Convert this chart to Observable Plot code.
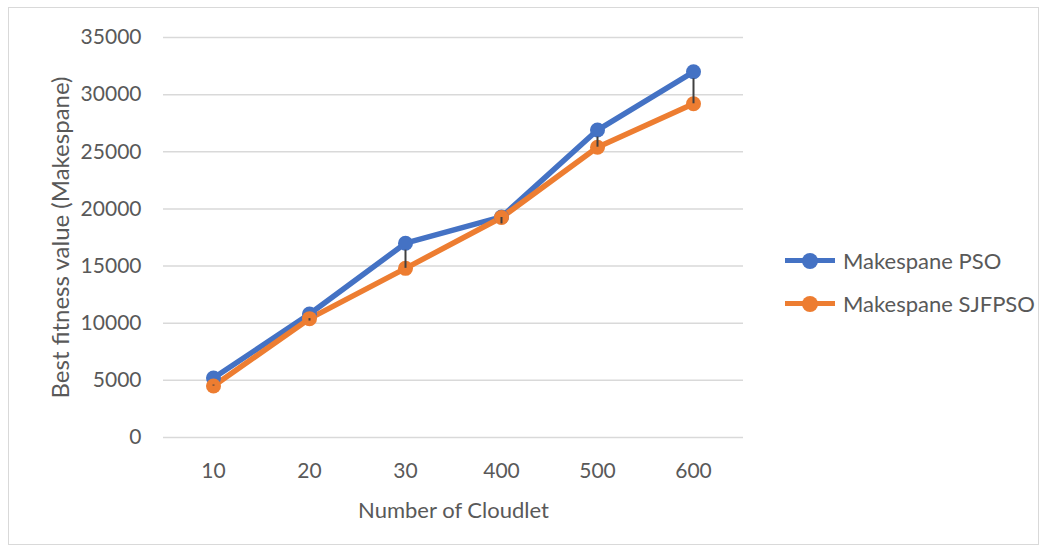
<!DOCTYPE html>
<html>
<head>
<meta charset="utf-8">
<script src="https://cdn.jsdelivr.net/npm/d3@7"></script>
<script src="https://cdn.jsdelivr.net/npm/@observablehq/plot@0.6"></script>
<style>
  html, body { margin: 0; padding: 0; background: #fff; }
  #wrap { position: relative; width: 1046px; height: 553px; font-family: Lato, "Open Sans", sans-serif; }
  #frame { position: absolute; left: 8px; top: 7px; width: 1031px; height: 538px; border: 1px solid #d9d9d9; box-sizing: border-box; }
  #chart { position: absolute; left: 0; top: 0; }
  #legend { position: absolute; left: 785px; top: 239px; font-size: 22px; color: #595959; }
  .item { display: flex; align-items: center; height: 43px; }
  .sw { position: relative; width: 50px; height: 16px; margin-right: 8px; }
  .sw .ln { position: absolute; left: 0; top: 5.5px; width: 50px; height: 5px; }
  .sw .dot { position: absolute; left: 17px; top: 0; width: 16px; height: 16px; border-radius: 50%; }
  .ylab { font-size: 24px; }
</style>
</head>
<body>
<div id="wrap">
  <div id="frame"></div>
  <div id="chart"></div>
  <div id="legend"></div>
</div>
<script>
const categories = ["10", "20", "30", "400", "500", "600"];
const psoValues = [5200, 10800, 17000, 19300, 26900, 32000];
const sjfpsoValues = [4500, 10400, 14800, 19250, 25400, 29200];
const seriesNames = ["Makespane PSO", "Makespane SJFPSO"];
const seriesColors = ["#4472C4", "#ED7D31"];
const yTicks = [0, 5000, 10000, 15000, 20000, 25000, 30000, 35000];

const rows = [];
categories.forEach((c, i) => {
  rows.push({cat: c, value: psoValues[i], series: seriesNames[0]});
  rows.push({cat: c, value: sjfpsoValues[i], series: seriesNames[1]});
});
const hiLo = categories.map((c, i) => ({cat: c, a: psoValues[i], b: sjfpsoValues[i]}));

const chart = Plot.plot({
  width: 1046,
  height: 553,
  marginLeft: 163,
  marginRight: 303,
  marginTop: 37,
  marginBottom: 116,
  style: {fontFamily: "Lato, 'Open Sans', sans-serif", fontSize: "21px", color: "#595959", background: "transparent"},
  x: {type: "point", domain: categories, padding: 0.5},
  y: {domain: [0, 35000]},
  color: {domain: seriesNames, range: seriesColors},
  marks: [
    Plot.gridY(yTicks, {stroke: "#d9d9d9", strokeOpacity: 1, strokeWidth: 1.5}),
    Plot.axisY(yTicks, {tickSize: 0, tickPadding: 22, fontSize: 21, tickFormat: d => String(d), label: null}),
    Plot.axisY({tickSize: 0, ticks: [], fontSize: 24,
      label: "Best fitness value (Makespane)", labelAnchor: "center", labelOffset: 112, labelArrow: "none"}),
    Plot.axisX({tickSize: 0, tickPadding: 26, fontSize: 21, label: null}),
    Plot.axisX({tickSize: 0, ticks: [], fontSize: 22,
      label: "Number of Cloudlet", labelAnchor: "center", labelOffset: 80, labelArrow: "none"}),
    Plot.line(rows, {x: "cat", y: "value", z: "series", stroke: "series", strokeWidth: 5.5}),
    Plot.dot(rows, {x: "cat", y: "value", fill: "series", r: 7.5}),
    Plot.ruleX(hiLo, {x: "cat", y1: "a", y2: "b", stroke: "#404040", strokeWidth: 2, insetTop: 7, insetBottom: 0})
  ]
});
document.getElementById("chart").appendChild(chart);

const legend = document.getElementById("legend");
seriesNames.forEach((n, i) => {
  const it = document.createElement("div");
  it.className = "item";
  it.innerHTML = `<div class="sw"><div class="ln" style="background:${seriesColors[i]}"></div><div class="dot" style="background:${seriesColors[i]}"></div></div><span>${n}</span>`;
  legend.appendChild(it);
});
</script>
</body>
</html>
